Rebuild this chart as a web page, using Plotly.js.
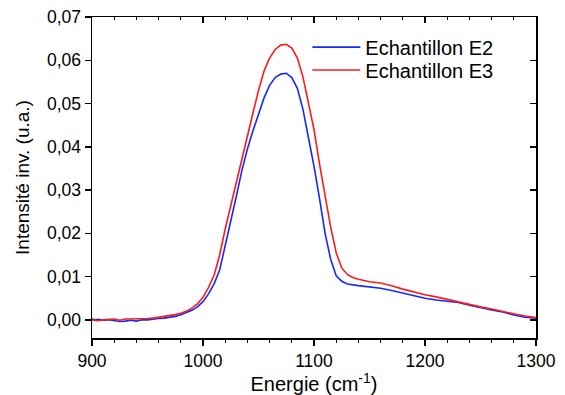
<!DOCTYPE html>
<html><head><meta charset="utf-8">
<script src="https://cdn.plot.ly/plotly-3.0.1.min.js"></script>
<style>html,body{margin:0;padding:0;background:#fff}#c{width:565px;height:395px}</style>
</head><body><div id="c"></div>
<script>
const xE2 = [900,903,906,910,915,920,925,930,935,940,945,950,955,960,965,970,975,980,985,990,995,1000,1005,1010,1015,1020,1025,1030,1035,1040,1045,1050,1055,1060,1065,1070,1075,1080,1085,1090,1095,1100,1105,1110,1115,1120,1125,1130,1140,1150,1160,1170,1180,1190,1200,1210,1220,1230,1240,1250,1260,1270,1280,1290,1300];
const yE2 = [0.0002,0.0000,0.0001,-0.0001,0.0000,-0.0002,-0.0004,-0.0003,-0.0001,-0.0003,0.0000,0.0000,0.0002,0.0003,0.0004,0.0006,0.0008,0.0012,0.0017,0.0022,0.0030,0.0042,0.0060,0.0083,0.0115,0.0170,0.0225,0.0285,0.0345,0.0395,0.0437,0.0475,0.0513,0.0542,0.0560,0.0568,0.0570,0.0560,0.0535,0.0487,0.0425,0.0355,0.0280,0.0200,0.0140,0.0102,0.0089,0.0083,0.0079,0.0076,0.0073,0.0068,0.0062,0.0055,0.0050,0.0046,0.0043,0.0040,0.0034,0.0028,0.0023,0.0018,0.0011,0.0006,0.0004];
const xE3 = [900,905,910,915,920,925,930,935,940,945,950,955,960,965,970,975,980,985,990,995,1000,1005,1010,1015,1020,1025,1030,1035,1040,1045,1050,1055,1060,1065,1070,1075,1080,1085,1090,1095,1100,1105,1110,1115,1120,1125,1130,1135,1140,1145,1150,1160,1170,1180,1190,1200,1210,1220,1230,1240,1250,1260,1270,1280,1290,1300];
const yE3 = [0.0000,-0.0002,0.0000,0.0001,0.0002,-0.0001,0.0002,0.0002,0.0002,0.0003,0.0003,0.0004,0.0006,0.0007,0.0009,0.0012,0.0015,0.0020,0.0027,0.0037,0.0052,0.0075,0.0103,0.0150,0.0210,0.0265,0.0320,0.0375,0.0430,0.0478,0.0530,0.0575,0.0605,0.0625,0.0635,0.0637,0.0628,0.0605,0.0562,0.0502,0.0440,0.0360,0.0285,0.0215,0.0155,0.0120,0.0105,0.0098,0.0094,0.0091,0.0088,0.0085,0.0079,0.0071,0.0064,0.0058,0.0053,0.0047,0.0041,0.0035,0.0030,0.0025,0.0019,0.0014,0.0009,0.0005];
const names = ['Echantillon E2','Echantillon E3'];
const xRange = [900,1300];
const yRange = [-0.0042,0.07];

const F = 'Arial, "Liberation Sans", sans-serif';
const traces = [
  {x:xE2,y:yE2,name:names[0],mode:'lines',line:{color:'#1428ff',width:1.6},legend:'legend'},
  {x:xE3,y:yE3,name:names[1],mode:'lines',line:{color:'#ff1a1a',width:1.6},legend:'legend2'}
];
const legBase = {xanchor:'left',yanchor:'middle',bgcolor:'rgba(0,0,0,0)',font:{size:20,family:F},itemwidth:48};
const layout = {
  width:565,height:395,
  margin:{l:92,r:29,t:17,b:57},
  paper_bgcolor:'#fff',plot_bgcolor:'#fff',
  separators:', ',
  font:{family:F,color:'#000',size:17},
  showlegend:true,
  legend:Object.assign({x:0.485,y:0.906},legBase),
  legend2:Object.assign({x:0.485,y:0.835},legBase),
  xaxis:{range:xRange,showgrid:false,zeroline:false,showline:true,linecolor:'#000',linewidth:1.5,
    ticks:'outside',ticklen:6,tickwidth:1.5,tickcolor:'#000',dtick:100,tick0:900,
    minor:{dtick:20,ticks:'outside',ticklen:3,tickwidth:1,tickcolor:'#000'},
    tickfont:{size:17.5,family:F},title:{text:'Energie (cm<sup>-1</sup>)',font:{size:20,family:F},standoff:1}},
  yaxis:{range:yRange,showgrid:false,zeroline:false,showline:true,linecolor:'#000',linewidth:1.5,
    ticks:'outside',ticklen:6,tickwidth:1.5,tickcolor:'#000',dtick:0.01,tick0:0,tickformat:'.2f',
    tickfont:{size:17.5,family:F},title:{text:'Intensité inv. (u.a.)',font:{size:19,family:F},standoff:12}},
  xaxis2:{overlaying:'x',side:'top',anchor:'y',range:xRange,showgrid:false,zeroline:false,showline:true,linecolor:'#000',linewidth:1.5,
    ticks:'inside',ticklen:6,tickwidth:1.5,tickcolor:'#000',dtick:100,tick0:900,showticklabels:false,
    minor:{dtick:20,ticks:'inside',ticklen:3,tickwidth:1,tickcolor:'#000'}},
  yaxis2:{overlaying:'y',side:'right',anchor:'x',range:yRange,showgrid:false,zeroline:false,showline:true,linecolor:'#000',linewidth:1.5,
    ticks:'inside',ticklen:6,tickwidth:1.5,tickcolor:'#000',dtick:0.01,tick0:0,showticklabels:false}
};
traces.push({x:xRange,y:yRange,xaxis:'x2',yaxis:'y2',mode:'lines',line:{width:0},showlegend:false,hoverinfo:'skip',opacity:0});
Plotly.newPlot('c',traces,layout,{displayModeBar:false,staticPlot:true});
</script></body></html>
